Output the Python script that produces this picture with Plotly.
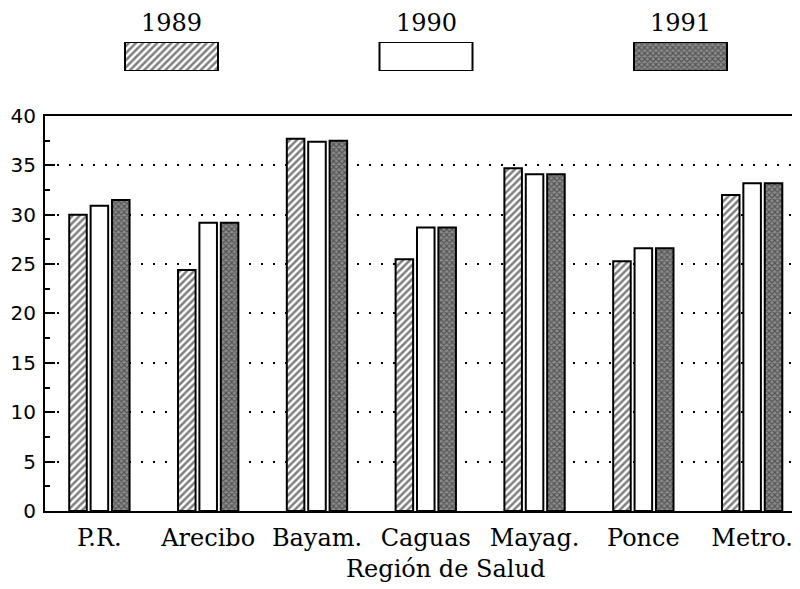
import plotly.graph_objects as go

categories = ["P.R.", "Arecibo", "Bayam.", "Caguas", "Mayag.", "Ponce", "Metro."]
years = ["1989", "1990", "1991"]
v1989 = [30.0, 24.4, 37.7, 25.5, 34.7, 25.3, 32.0]
v1990 = [30.9, 29.2, 37.4, 28.7, 34.1, 26.6, 33.2]
v1991 = [31.5, 29.2, 37.5, 28.7, 34.1, 26.6, 33.2]
y_ticks = [0, 5, 10, 15, 20, 25, 30, 35, 40]

series = [v1989, v1990, v1991]
styles = [
    dict(color="white", pattern=dict(shape="/", fgcolor="black", size=5, solidity=0.5)),
    dict(color="white"),
    dict(color="#8c8c8c", pattern=dict(shape="x", fgcolor="#1a1a1a", size=4, solidity=0.5)),
]

fig = go.Figure()
for name, vals, st in zip(years, series, styles):
    fig.add_trace(go.Bar(
        x=categories, y=vals, name=name, showlegend=False,
        marker=dict(line=dict(color="black", width=2), **st),
        xaxis="x", yaxis="y",
    ))

# legend swatches (drawn as bars on a pixel-mapped overlay axis)
legend_x = [171.5, 426, 680.5]
for name, lx, st in zip(years, legend_x, styles):
    fig.add_trace(go.Bar(
        x=[lx], y=[1], width=[93], showlegend=False, hoverinfo="skip",
        marker=dict(line=dict(color="black", width=2), **st),
        xaxis="x2", yaxis="y2",
    ))
    fig.add_annotation(x=lx, y=1.0, xref="x2", yref="paper", text=name,
                       showarrow=False, xanchor="center", yanchor="top",
                       borderpad=0,
                       font=dict(family="DejaVu Serif", size=24, color="black"))

fig.add_annotation(x=0.531, y=-0.1153, xref="paper", yref="paper", text="Región de Salud",
                   showarrow=False, xanchor="center", yanchor="middle",
                   font=dict(family="DejaVu Serif", size=24, color="black"))

fig.update_layout(
    width=792, height=581,
    margin=dict(l=37, r=0, t=0, b=78, autoexpand=False),
    paper_bgcolor="white", plot_bgcolor="white",
    barmode="group", bargap=0.41, bargroupgap=0.18,
    showlegend=False,
    xaxis=dict(
        domain=[0, 1], range=[-0.5, 6.44], showgrid=False, zeroline=False,
        showline=True, linecolor="black", linewidth=2, mirror=True, ticks="",
        tickfont=dict(family="DejaVu Serif", size=24, color="black"),
        ticklabelstandoff=4,
        anchor="y", automargin=False,
    ),
    yaxis=dict(
        domain=[0, 0.7853], range=[0, 40], tickvals=y_ticks,
        ticks="inside", ticklen=10, tickwidth=1.5, tickcolor="black",
        minor=dict(ticks="inside", ticklen=5, tickwidth=1.5, tickcolor="black", dtick=2.5, showgrid=False),
        showgrid=True, gridcolor="black", gridwidth=2, griddash="2px,10px",
        zeroline=False, showline=True, linecolor="black", linewidth=2,
        tickfont=dict(family="DejaVu Sans", size=20, color="black"),
        ticklabelstandoff=3,
        anchor="x", automargin=False,
    ),
    xaxis2=dict(domain=[0, 1], range=[45, 800], visible=False, anchor="y2"),
    yaxis2=dict(domain=[0.8748, 0.9324], range=[0, 1], visible=False, anchor="x2"),
)

fig.write_html("out.html")
